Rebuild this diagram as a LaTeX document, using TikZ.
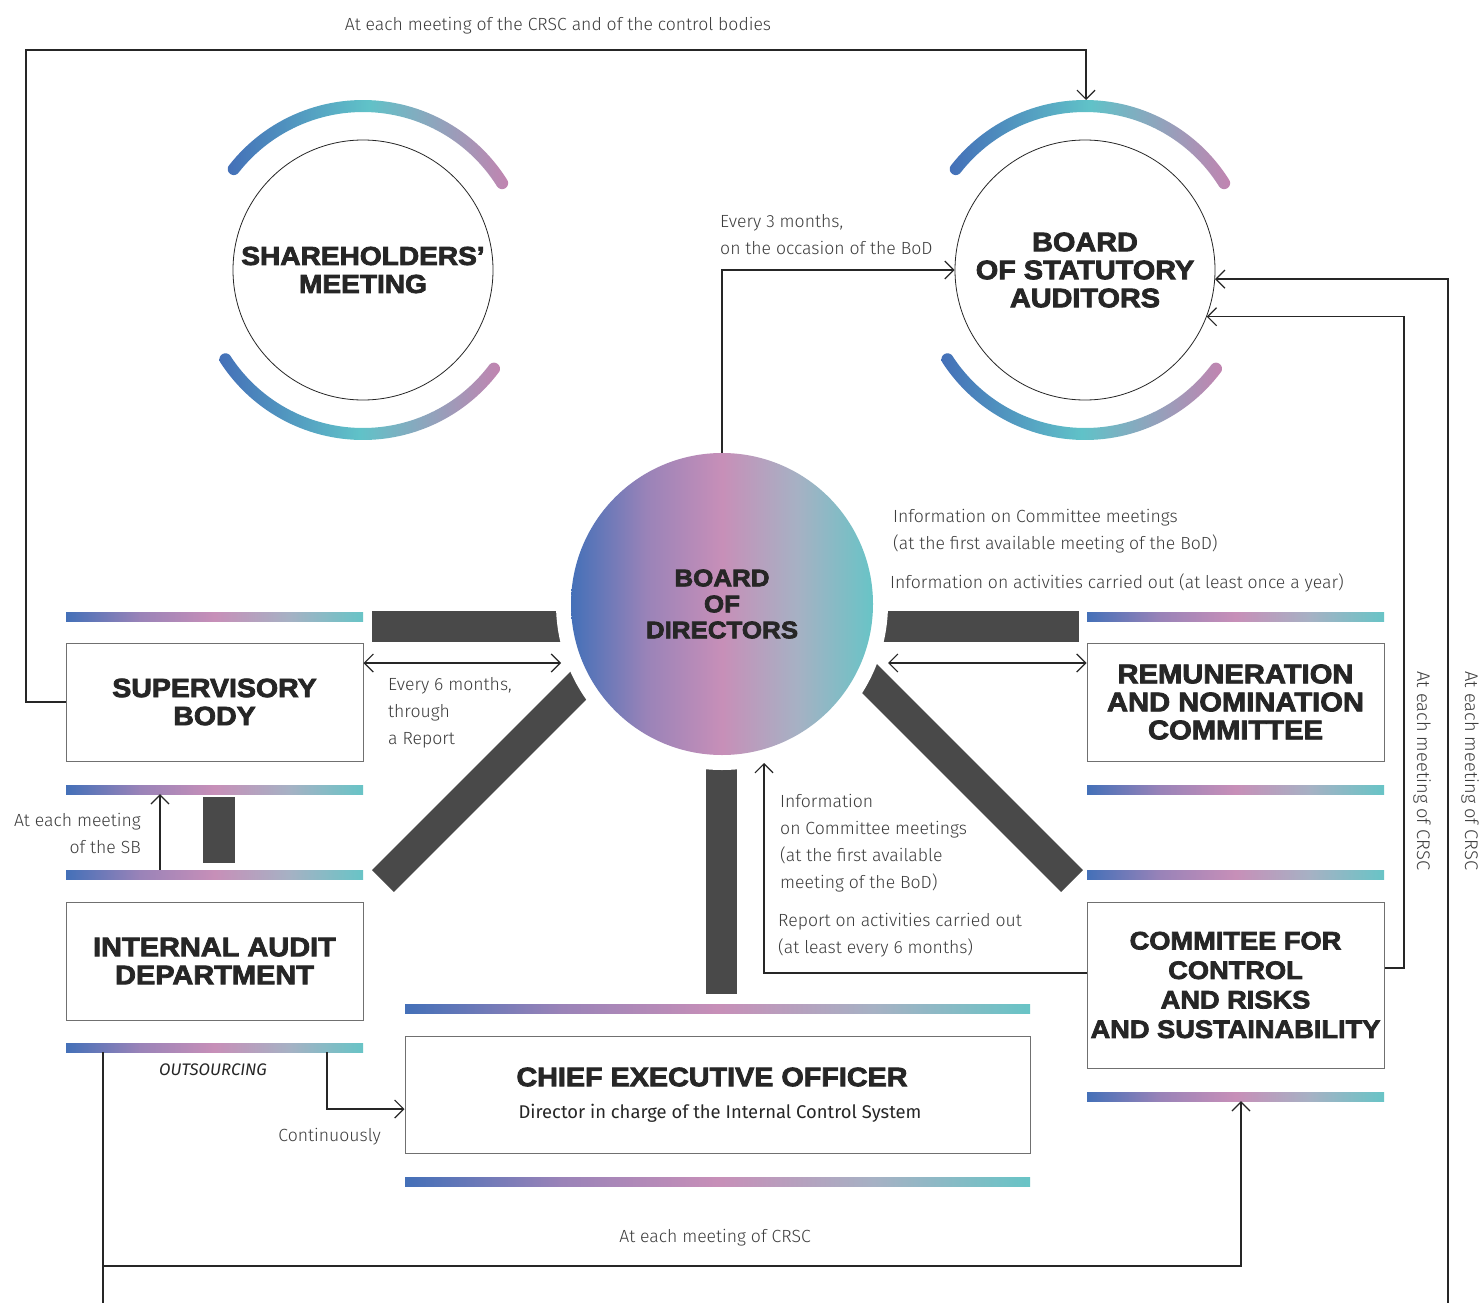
\documentclass[tikz,border=0pt]{standalone}
\usepackage{fontspec}
\setmainfont{Fira Sans Light}
\newfontfamily\mfont{Fira Sans}
\newfontfamily\hfont{Liberation Sans Bold}[FakeBold=3,FakeStretch=1.08]
\usetikzlibrary{arrows.meta,calc}
\definecolor{gblue}{HTML}{4470B8}
\definecolor{gpurple}{HTML}{9A83B8}
\definecolor{gpink}{HTML}{C78FB8}
\definecolor{ggray}{HTML}{A6B1C4}
\definecolor{gteal}{HTML}{68C4C6}
\definecolor{arcpink}{HTML}{C184B0}
\definecolor{arcteal}{HTML}{60C2C8}
\definecolor{darkbar}{HTML}{494949}
\definecolor{txt}{HTML}{3D3D3D}
\definecolor{ink}{HTML}{262626}
\definecolor{boxgray}{HTML}{707070}
\pgfdeclarehorizontalshading{barshade}{100bp}{color(0bp)=(gblue); color(25bp)=(gblue); color(37.5bp)=(gpurple); color(50bp)=(gpink); color(62.5bp)=(ggray); color(75bp)=(gteal); color(100bp)=(gteal)}
\newcommand\hdf[2]{\hfont\fontsize{#1}{#2}\selectfont}
\newcommand\gradarc[4]{%
  \pgfmathsetmacro\gaA{#4+180}\pgfmathsetmacro\gaB{#3+180}\pgfmathsetmacro\gaC{#3+360}%
  \shade[left color=gblue, right color=arcpink, middle color=arcteal]
    plot[domain=#3:#4,samples=60] ({#1+170*cos(\x)},{#2+170*sin(\x)})
    -- plot[domain=#4:\gaA,samples=20] ({#1+164*cos(#4)+6*cos(\x)},{#2+164*sin(#4)+6*sin(\x)})
    -- plot[domain=#4:#3,samples=60] ({#1+158*cos(\x)},{#2+158*sin(\x)})
    -- plot[domain=\gaB:\gaC,samples=20] ({#1+164*cos(#3)+6*cos(\x)},{#2+164*sin(#3)+6*sin(\x)})
    -- cycle;}
\tikzset{
  box/.style={draw=boxgray, line width=1pt, minimum width=297pt, minimum height=118pt, inner sep=0pt, align=center, text=ink},
  gbar/.style={shade, shading=barshade, minimum height=9pt, minimum width=297pt, inner sep=0pt, draw=none},
  ring/.style={circle, draw=ink, line width=0.8pt, minimum size=260pt, inner sep=0pt, align=center, text=ink},
  conn/.style={draw=ink, line width=1.2pt},
  arr/.style={conn, -{Straight Barb[length=9pt,width=18pt,line width=1.2pt]}},
  dbl/.style={conn, {Straight Barb[length=9pt,width=18pt,line width=1.2pt]}-{Straight Barb[length=9pt,width=18pt,line width=1.2pt]}},
  lbl/.style={text=txt, font=\fontsize{17.6}{27}\selectfont, inner sep=0pt, align=left},
}
\begin{document}
\begin{tikzpicture}[x=1pt,y=-1pt]
\useasboundingbox (0,0) rectangle (1480,1303);
\fill[white] (0,0) rectangle (1480,1303);
% gradient arcs
\gradarc{363}{270}{218}{328}
\gradarc{363}{270}{37}{147}
\gradarc{1085}{270}{218}{328}
\gradarc{1085}{270}{37}{147}
% circles
\node[ring, font=\hdf{26}{28}] (sh) at (363,270) {SHAREHOLDERS’\\MEETING};
\node[ring, font=\hdf{26.7}{28}] (bsa) at (1085,270) {BOARD\\OF STATUTORY\\AUDITORS};
% dark bars
\fill[darkbar] (372,611) rectangle (640,642);
\fill[darkbar] (805,611) rectangle (1079,642);
\fill[darkbar] (706,700) rectangle (737,994);
\fill[darkbar] (203,797) rectangle (235,863);
\draw[darkbar, line width=31pt] (383,881) -- (600,664);
\draw[darkbar, line width=31pt] (1072,881) -- (852,661);
\fill[white] (722,604) circle[radius=166pt];
\node[circle, minimum size=302pt, inner sep=0pt, shade, shading=barshade, align=center, text=ink, font=\hdf{24}{26}] (bod) at (722,604) {BOARD\\OF\\DIRECTORS};
% gradient bars
\node[gbar] (sbtop) at (214.5,616.5) {};
\node[gbar] (sbbot) at (214.5,789.5) {};
\node[gbar] (iadtop) at (214.5,874.5) {};
\node[gbar] (iadbot) at (214.5,1047.5) {};
\node[gbar] (remtop) at (1235.5,616.5) {};
\node[gbar] (rembot) at (1235.5,789.5) {};
\node[gbar] (ccrstop) at (1235.5,874.5) {};
\node[gbar] (ccrsbot) at (1235.5,1096.5) {};
\node[gbar, minimum width=625pt] (ceotop) at (717.5,1008.5) {};
\node[gbar, minimum width=625pt] (ceobot) at (717.5,1181.5) {};
% boxes
\node[box, font=\hdf{26.4}{28}] (sb) at (214.5,702) {SUPERVISORY\\BODY};
\node[box, font=\hdf{26.8}{28}] (iad) at (214.5,961) {INTERNAL AUDIT\\DEPARTMENT};
\node[box, font=\hdf{27}{28}] (rem) at (1235.5,702) {REMUNERATION\\AND NOMINATION\\COMMITTEE};
\node[box, minimum height=166pt, font=\hdf{25.2}{29.5}] (ccrs) at (1235.5,985) {COMMITEE FOR\\CONTROL\\AND RISKS\\AND SUSTAINABILITY};
\node[box, minimum width=625pt, minimum height=117pt] (ceo) at (717.5,1094.5) {};
\node[text=ink, inner sep=0pt, font=\hdf{26.6}{28}] (ceot) at (712,1077) {CHIEF EXECUTIVE OFFICER};
\node[text=ink, inner sep=0pt, font=\mfont\fontsize{18.4}{20}\selectfont] (ceos) at (720,1113) {Director in charge of the Internal Control System};
% coordinates
\coordinate (bsatop) at (1086,100);
\coordinate (bodL) at (561,663);
\coordinate (bodR) at (888,663);
\coordinate (bodB) at (764,763);
\coordinate (edgeL) at (103,1303);
\coordinate (edgeR) at (1448,1303);
\coordinate (jL) at (103,1266);
% connectors
\draw[arr] (sb.west) -- (26,702) -- (26,50) -| (bsatop);
\draw[arr] (bod.north) |- (bsa.west);
\draw[arr] (ccrs.east |- 0,968) -- (1404,968) |- (bsa.-21.2);
\draw[arr] (edgeR) |- (bsa.-4);
\draw[dbl] (sb.east |- 0,663) -- (bodL);
\draw[dbl] (bodR) -- (rem.west |- 0,663);
\draw[arr] (iadtop.north -| 160,0) -- (sbbot.south -| 160,0);
\draw[arr] (iadbot.south -| 327,0) |- (ceo.west |- 0,1109);
\draw[conn] (iadbot.south -| 103,0) -- (edgeL);
\draw[arr] (jL) -| (ccrsbot.south -| 1241,0);
\draw[arr] (ccrs.west |- 0,973) -| (bodB);
% labels
\node[lbl] (ltop) at (558,26) {At each meeting of the CRSC and of the control bodies};
\node[lbl, anchor=west] (l3m) at (720,234.5) {Every 3 months,\\on the occasion of the BoD};
\node[lbl, anchor=west] (lcm) at (893,531) {Information on Committee meetings\\(at the first available meeting of the BoD)};
\node[lbl, anchor=west] (lact) at (890,583) {Information on activities carried out (at least once a year)};
\node[lbl, anchor=west] (l6m) at (388,713) {Every 6 months,\\through\\a Report};
\node[lbl, anchor=east, align=right] (lsb) at (141,833.5) {At each meeting\\of the SB};
\node[text=ink, inner sep=0pt, font=\mfont\itshape\fontsize{16.7}{18}\selectfont] (lout) at (213,1070) {OUTSOURCING};
\node[lbl, anchor=east] (lcont) at (381,1137) {Continuously};
\node[lbl] (lbot) at (715,1238) {At each meeting of CRSC};
\node[lbl, anchor=west] (linf) at (780,843) {Information\\on Committee meetings\\(at the first available\\meeting of the BoD)};
\node[lbl, anchor=west] (lrep) at (778,935) {Report on activities carried out\\(at least every 6 months)};
\node[lbl, rotate=-90, font=\fontsize{18.3}{20}\selectfont] (lr1) at (1422,771) {At each meeting of CRSC};
\node[lbl, rotate=-90, font=\fontsize{18.3}{20}\selectfont] (lr2) at (1470,771) {At each meeting of CRSC};
\end{tikzpicture}
\end{document}
